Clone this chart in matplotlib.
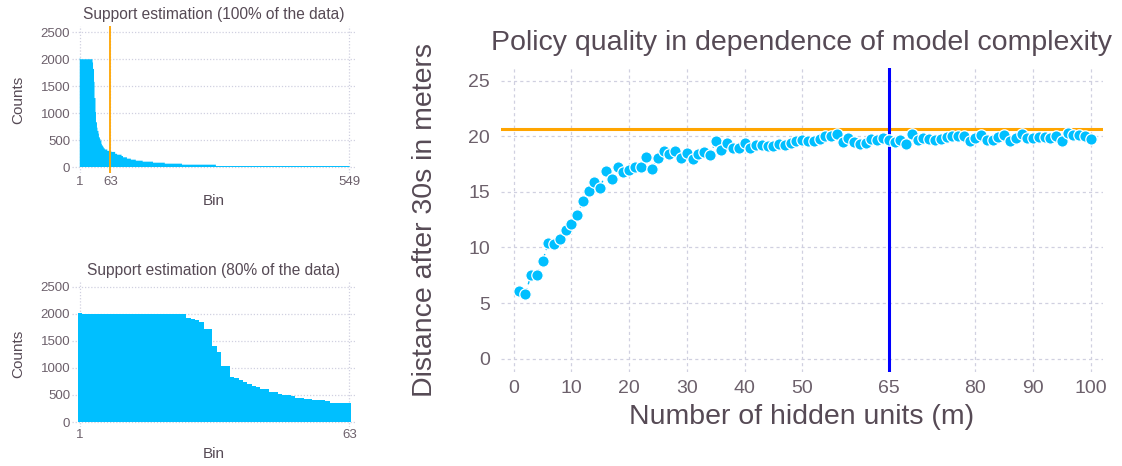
import numpy as np
import matplotlib
matplotlib.use("Agg")
import matplotlib.pyplot as plt

plt.rcParams['font.family'] = ['Liberation Sans', 'DejaVu Sans']

# Histogram of support (100% of the data), as step levels and number of bins per level
hist100_levels = [2020, 2000, 1940, 1820, 1580, 1280, 1020, 830, 730, 670, 620, 550, 520,
                  490, 430, 400, 380, 365, 345, 325, 300, 280, 245, 228, 204, 180, 155,
                  136, 117, 99, 80, 62, 43, 18]
hist100_runs = [1, 25, 1, 2, 1, 2, 1, 2, 1, 2, 1, 2, 1,
                2, 1, 2, 1, 1, 2, 5, 8, 8, 4, 9, 3, 8, 8,
                10, 14, 21, 24, 35, 69, 272]
hist100_ticks = [1, 63, 549]

# Histogram of support (80% of the data)
hist80_levels = [2020, 2000, 1930, 1905, 1880, 1855, 1720, 1405, 1295, 1035, 835, 810, 775,
                 735, 700, 665, 640, 610, 555, 525, 495, 485, 445, 420, 405, 390, 360, 345]
hist80_runs = [1, 24, 1, 1, 1, 1, 2, 1, 1, 2, 1, 1, 1,
               1, 1, 1, 1, 2, 2, 1, 2, 1, 2, 2, 3, 1, 1, 4]
hist80_ticks = [1, 63]

# Policy quality vs. hidden units
hidden_units = list(range(1, 101))
distance = [6.05, 5.8, 7.5, 7.55, 8.77, 10.36, 10.3, 10.8, 11.6, 12.1,
            12.87, 14.19, 15.09, 15.87, 15.3, 16.9, 16.17, 17.19, 16.8, 17.0,
            17.2, 17.25, 18.14, 17.07, 18.05, 18.68, 18.35, 18.68, 18.05, 18.47,
            17.96, 18.41, 18.53, 18.32, 19.52, 18.71, 19.37, 18.89, 18.92, 19.37,
            18.89, 19.22, 19.19, 19.07, 19.13, 19.28, 19.16, 19.37, 19.58, 19.67,
            19.58, 19.55, 19.73, 19.97, 20.03, 20.15, 19.46, 19.82, 19.43, 19.28,
            19.37, 19.73, 19.64, 19.79, 19.61, 19.49, 19.61, 19.31, 20.21, 19.67,
            19.79, 19.73, 19.67, 19.73, 19.91, 19.97, 19.97, 19.97, 19.52, 19.79,
            20.09, 19.67, 19.67, 19.91, 20.12, 19.52, 19.79, 20.15, 19.79, 19.79,
            19.91, 19.91, 19.79, 20.03, 19.55, 20.27, 20.09, 20.09, 20.03, 19.76]
reference_distance = 20.6
chosen_units = 65
x_ticks = [0, 10, 20, 30, 40, 50, 65, 80, 90, 100]
y_ticks = [0, 5, 10, 15, 20, 25]

BLUE = '#00BFFF'
ORANGE = '#FFA500'
LABEL = '#564A55'
TICK = '#6C606B'
GRID = '#D0D0E0'


def style(ax, tick_size, dash):
    for s in ax.spines.values():
        s.set_visible(False)
    ax.tick_params(length=0, colors=TICK, labelsize=tick_size)
    ax.grid(True, color=GRID, lw=0.9, ls=dash)
    ax.set_axisbelow(True)


def hist_panel(ax, levels, runs, ticks, xlim, ylim, title):
    counts = np.repeat(levels, runs)
    edges = np.arange(0.5, len(counts) + 1.5)
    ax.stairs(counts, edges, fill=True, color=BLUE, lw=0)
    style(ax, 9.5, (0, (1, 1.5)))
    ax.set_xlim(*xlim)
    ax.set_ylim(*ylim)
    ax.set_xticks(ticks)
    ax.set_yticks([0, 500, 1000, 1500, 2000, 2500])
    ax.tick_params(axis='x', pad=2)
    ax.tick_params(axis='y', pad=1)
    ax.set_title(title, fontsize=11.2, color=LABEL, pad=5)
    ax.set_xlabel('Bin', fontsize=11, color=LABEL, labelpad=4)
    ax.set_ylabel('Counts', fontsize=11, color=LABEL, labelpad=11)


fig = plt.figure(figsize=(11.22, 4.66), dpi=100)

ax1 = fig.add_axes([0.0639, 0.6281, 0.2534, 0.3161])
hist_panel(ax1, hist100_levels, hist100_runs, hist100_ticks, (-15.9, 562.6), (-117, 2617),
           'Support estimation (100% of the data)')
ax1.axvline(63, color=ORANGE, lw=1.3)

ax2 = fig.add_axes([0.0639, 0.0843, 0.2534, 0.3112])
hist_panel(ax2, hist80_levels, hist80_runs, hist80_ticks, (-0.91, 64.54), (-87, 2592),
           'Support estimation (80% of the data)')

ax3 = fig.add_axes([0.4465, 0.2024, 0.5365, 0.6511])
style(ax3, 14, (0, (2.5, 2.5)))
ax3.axhline(reference_distance, color=ORANGE, lw=2.2, zorder=2)
ax3.axvline(chosen_units, color='#0000FF', lw=2.2, zorder=3)
ax3.plot(hidden_units, distance, color=BLUE, lw=1, ls=(0, (3, 3)), zorder=4)
ax3.plot(hidden_units, distance, 'o', color=BLUE, ms=8.2, mec='white', mew=0.9, zorder=5)
ax3.set_xlim(-2.2, 102.1)
ax3.set_ylim(-1.17, 26.1)
ax3.set_xticks(x_ticks)
ax3.set_yticks(y_ticks)
ax3.tick_params(axis='x', pad=6)
ax3.tick_params(axis='y', pad=8)
ax3.set_title('Policy quality in dependence of model complexity', fontsize=20.5, color=LABEL, pad=13)
ax3.set_xlabel('Number of hidden units (m)', fontsize=20.5, color=LABEL, labelpad=5)
ax3.set_ylabel('Distance after 30s in meters', fontsize=20.5, color=LABEL, labelpad=22)

fig.savefig('out.png', dpi=100)
